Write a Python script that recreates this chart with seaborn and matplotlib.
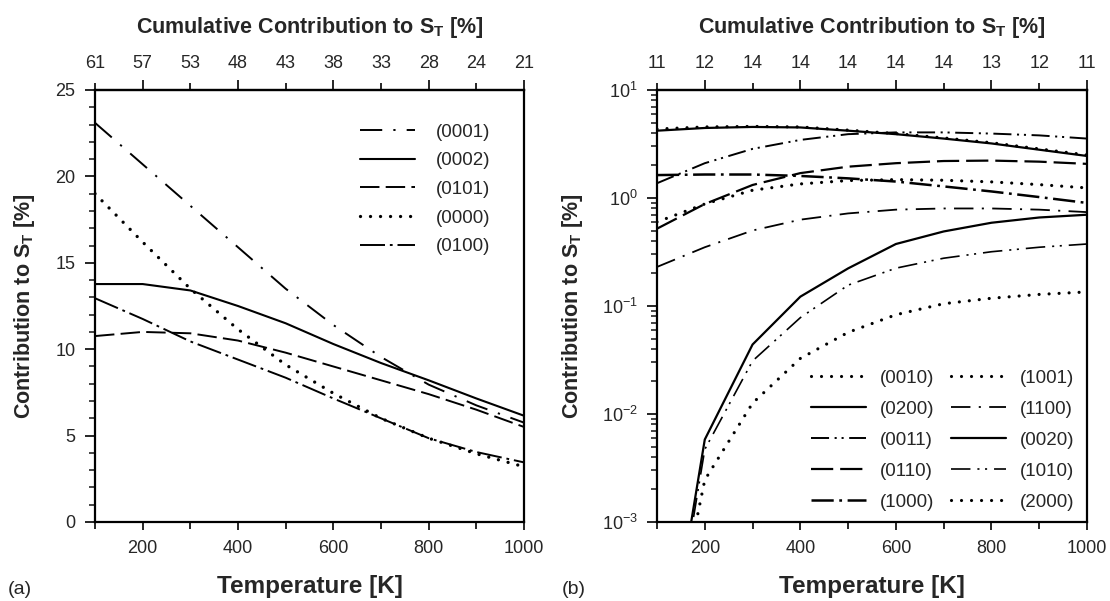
import numpy as np
import pandas as pd
import matplotlib
matplotlib.use("Agg")
import matplotlib.pyplot as plt
import seaborn as sns
from matplotlib.ticker import MultipleLocator, LogLocator, NullFormatter, LogFormatterMathtext

# ---------------- data ----------------
temperature = [100, 200, 300, 400, 500, 600, 700, 800, 900, 1000]

# panel (a)
a_names = ["(0001)", "(0002)", "(0101)", "(0000)", "(0100)"]
a_0001 = [23.1, 20.7, 18.3, 15.9, 13.5, 11.4, 9.55, 7.95, 6.75, 5.75]
a_0002 = [13.77, 13.77, 13.4, 12.5, 11.5, 10.3, 9.2, 8.2, 7.15, 6.15]
a_0101 = [10.76, 11.0, 10.92, 10.5, 9.8, 9.0, 8.2, 7.4, 6.5, 5.5]
a_0000 = [19.0, 16.2, 13.5, 11.15, 9.1, 7.45, 6.0, 4.85, 3.95, 3.2]
a_0100 = [12.95, 11.75, 10.45, 9.4, 8.35, 7.15, 6.0, 4.85, 4.05, 3.45]
a_top_labels = ["61", "57", "53", "48", "43", "38", "33", "28", "24", "21"]

# panel (b)
b_names = ["(0010)", "(0200)", "(0011)", "(0110)", "(1000)",
           "(1001)", "(1100)", "(0020)", "(1010)", "(2000)"]
b_0010 = [4.35, 4.55, 4.6, 4.55, 4.25, 3.95, 3.6, 3.25, 2.85, 2.5]
b_0200 = [4.2, 4.45, 4.55, 4.5, 4.2, 3.9, 3.55, 3.2, 2.8, 2.45]
b_0011 = [1.37, 2.1, 2.85, 3.45, 3.9, 4.05, 4.05, 3.95, 3.8, 3.55]
b_0110 = [0.52, 0.88, 1.32, 1.7, 1.95, 2.1, 2.2, 2.22, 2.17, 2.07]
b_1000 = [1.63, 1.65, 1.65, 1.6, 1.52, 1.42, 1.28, 1.15, 1.02, 0.9]
b_1001 = [0.6, 0.88, 1.18, 1.35, 1.45, 1.48, 1.46, 1.41, 1.33, 1.24]
b_1100 = [0.23, 0.35, 0.5, 0.63, 0.72, 0.78, 0.8, 0.8, 0.78, 0.74]
b_0020 = [1.2e-5, 0.0058, 0.044, 0.122, 0.223, 0.375, 0.49, 0.59, 0.66, 0.70]
b_1010 = [1.0e-5, 0.0047, 0.031, 0.078, 0.156, 0.224, 0.277, 0.318, 0.35, 0.375]
b_2000 = [1.7e-5, 0.00245, 0.0126, 0.0327, 0.057, 0.083, 0.105, 0.118, 0.128, 0.135]
b_top_labels = ["11", "12", "14", "14", "14", "14", "14", "13", "12", "11"]

# ---------------- style ----------------
sns.set_theme(style="ticks")
plt.rcParams["font.family"] = ["Liberation Sans", "DejaVu Sans"]
plt.rcParams["mathtext.fontset"] = "custom"
plt.rcParams["mathtext.rm"] = "Liberation Sans"
plt.rcParams["mathtext.it"] = "Liberation Sans:italic"
plt.rcParams["mathtext.bf"] = "Liberation Sans:bold"
plt.rcParams["axes.unicode_minus"] = False
plt.rcParams["lines.scale_dashes"] = False
plt.rcParams["axes.linewidth"] = 1.6

TICK_FS = 13
XLAB_FS = 17.5
LAB_FS = 15.5
LEG_FS = 13.5

DOT = (0, (0.01, 7.2))
styles_a = {
    "(0001)": dict(ls=(0, (16, 8, 1.6, 8)), lw=1.4),
    "(0002)": dict(ls="-", lw=1.5),
    "(0101)": dict(ls=(0, (14, 4.5)), lw=1.4),
    "(0000)": dict(ls=DOT, lw=2.4, round=True),
    "(0100)": dict(ls=(0, (18, 3.5, 2, 3.5)), lw=1.4),
}
styles_b = {
    "(0010)": dict(ls=DOT, lw=2.3, round=True),
    "(0200)": dict(ls="-", lw=1.6),
    "(0011)": dict(ls=(0, (13, 4, 1.5, 3.5, 1.5, 4)), lw=1.4),
    "(0110)": dict(ls=(0, (16, 5)), lw=1.6),
    "(1000)": dict(ls=(0, (16, 4, 2, 4)), lw=1.8),
    "(1001)": dict(ls=DOT, lw=2.3, round=True),
    "(1100)": dict(ls=(0, (14, 6, 1.5, 6)), lw=1.3),
    "(0020)": dict(ls="-", lw=1.6),
    "(1010)": dict(ls=(0, (14, 5, 1.5, 4, 1.5, 5)), lw=1.2),
    "(2000)": dict(ls=DOT, lw=2.3, round=True),
}

a_series = dict(zip(a_names, [a_0001, a_0002, a_0101, a_0000, a_0100]))
b_series = dict(zip(b_names, [b_0010, b_0200, b_0011, b_0110, b_1000,
                              b_1001, b_1100, b_0020, b_1010, b_2000]))

W, H = 1110, 601
fig = plt.figure(figsize=(W / 100, H / 100), dpi=100)
ax_a = fig.add_axes([95 / W, (H - 522) / H, 429 / W, 432 / H])
ax_b = fig.add_axes([657 / W, (H - 522) / H, 430 / W, 432 / H])


def draw(ax, series, styles):
    for name, vals in series.items():
        df = pd.DataFrame({"T": temperature, "v": vals})
        st = styles[name]
        sns.lineplot(data=df, x="T", y="v", ax=ax, color="black",
                     linewidth=st["lw"], label=name, legend=False)
        ln = ax.lines[-1]
        ln.set_linestyle(st["ls"])
        if st.get("round"):
            ln.set_dash_capstyle("round")


draw(ax_a, a_series, styles_a)
ax_b.set_yscale("log")
draw(ax_b, b_series, styles_b)

for ax, top_labels, ypad in ((ax_a, a_top_labels, 13.5), (ax_b, b_top_labels, 12)):
    ax.set_xlim(100, 1000)
    ax.set_xticks([200, 400, 600, 800, 1000])
    ax.set_xticks([100, 300, 500, 700, 900], minor=True)
    ax.tick_params(axis="x", which="major", direction="out", length=6, width=1.4,
                   labelsize=TICK_FS, pad=7, top=False)
    ax.tick_params(axis="x", which="minor", direction="out", length=5, width=1.4, top=False)
    ax.tick_params(axis="y", which="major", direction="out", length=7, width=1.4,
                   labelsize=TICK_FS, pad=7, right=False)
    ax.tick_params(axis="y", which="minor", direction="out", length=4, width=1.2, right=False)
    ax.set_xlabel("Temperature [K]", fontsize=XLAB_FS, fontweight="bold", labelpad=13)
    ax.set_ylabel(r"Contribution to S$_\mathbf{T}$ [%]", fontsize=LAB_FS,
                  fontweight="bold", labelpad=ypad)
    for s in ax.spines.values():
        s.set_visible(True)
        s.set_linewidth(1.6)
        s.set_color("black")

    sec = ax.secondary_xaxis("top")
    sec.set_xticks([200, 400, 600, 800, 1000], labels=top_labels[1::2])
    sec.set_xticks([100, 300, 500, 700, 900], labels=top_labels[0::2], minor=True)
    sec.tick_params(axis="x", which="major", direction="out", length=7, width=1.4,
                    labelsize=TICK_FS, pad=6)
    sec.tick_params(axis="x", which="minor", direction="out", length=5, width=1.4,
                    labelsize=TICK_FS, pad=8)
    sec.spines["top"].set_linewidth(1.6)
    sec.set_xlabel(r"Cumulative Contribution to S$_\mathbf{T}$ [%]", fontsize=LAB_FS,
                   fontweight="bold", labelpad=16)

# panel (a) y axis
ax_a.set_ylim(0, 25)
ax_a.yaxis.set_major_locator(MultipleLocator(5))
ax_a.yaxis.set_minor_locator(MultipleLocator(1))

# panel (b) y axis
ax_b.set_ylim(1e-3, 10)
ax_b.yaxis.set_major_locator(LogLocator(base=10, numticks=10))
ax_b.yaxis.set_minor_locator(LogLocator(base=10, subs=np.arange(2, 10), numticks=20))
ax_b.yaxis.set_minor_formatter(NullFormatter())
ax_b.yaxis.set_major_formatter(LogFormatterMathtext())

# legends
ax_a.legend(loc="upper left", bbox_to_anchor=(0.618, 0.922), frameon=False,
            fontsize=LEG_FS, handlelength=2.95, handletextpad=1.1,
            labelspacing=0.61, borderpad=0, borderaxespad=0)
ax_b.legend(loc="upper left", bbox_to_anchor=(0.358, 0.353), frameon=False,
            fontsize=LEG_FS, ncol=2, handlelength=2.95, handletextpad=0.75,
            labelspacing=0.74, columnspacing=0.85, borderpad=0, borderaxespad=0)

fig.text(8 / W, 1 - 590 / H, "(a)", fontsize=14, va="center", ha="left")
fig.text(562 / W, 1 - 590 / H, "(b)", fontsize=14, va="center", ha="left")

fig.savefig("out.png", dpi=100)
